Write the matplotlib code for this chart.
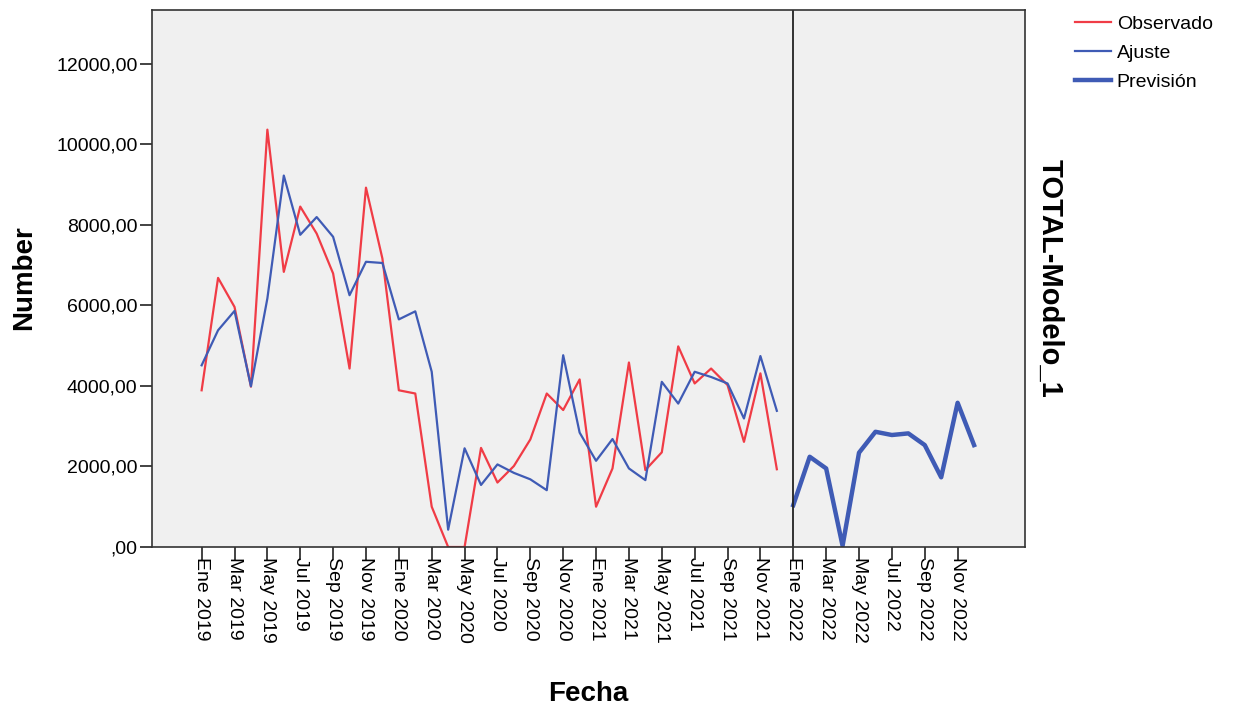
import matplotlib
matplotlib.use("Agg")
import matplotlib.pyplot as plt
from matplotlib.lines import Line2D
from matplotlib.ticker import FuncFormatter
import numpy as np

plt.rcParams["font.family"] = ["Liberation Sans", "DejaVu Sans"]

OBS_COLOR = "#F03C46"
FIT_COLOR = "#3F5BB5"

MESES = ["Ene", "Feb", "Mar", "Abr", "May", "Jun", "Jul", "Ago", "Sep", "Oct", "Nov", "Dic"]
YEARS = [2019, 2020, 2021, 2022]
month_labels = [f"{m} {y}" for y in YEARS for m in MESES]

# Jan 2019 - Dec 2021
observado = [3890, 6680, 5960, 3980, 10360, 6830, 8450, 7780, 6790, 4430, 8920, 7160,
             3890, 3810, 1000, 0, 0, 2460, 1600, 2010, 2670, 3810, 3400, 4160,
             1000, 1950, 4580, 1910, 2350, 4980, 4060, 4430, 4020, 2610, 4310, 1930]
ajuste = [4510, 5380, 5860, 3990, 6170, 9220, 7750, 8190, 7700, 6250, 7080, 7050,
          5650, 5850, 4350, 430, 2450, 1540, 2050, 1840, 1680, 1410, 4760, 2840,
          2140, 2680, 1950, 1660, 4100, 3560, 4350, 4220, 4060, 3190, 4740, 3380]
# Jan 2022 - Dec 2022
prevision = [1040, 2240, 1950, 30, 2340, 2860, 2780, 2820, 2530, 1730, 3580, 2530]

x_hist = np.arange(len(observado))
x_prev = np.arange(len(observado), len(observado) + len(prevision))

fig = plt.figure(figsize=(12.34, 7.11), dpi=100)
ax = fig.add_axes([152 / 1234, 1 - 547 / 711, (1025 - 152) / 1234, (547 - 10) / 711])
ax.set_facecolor("#F0F0F0")

ax.plot(x_hist, observado, color=OBS_COLOR, lw=1.6)
ax.plot(x_hist, ajuste, color=FIT_COLOR, lw=1.6)
ax.plot(x_prev, prevision, color=FIT_COLOR, lw=3.2)
ax.axvline(x=len(observado), color="#222222", lw=1.3)

ax.set_xlim(-3.02, 50.1)
ax.set_ylim(0, 13330)

ticks = np.arange(0, 48, 2)
ax.set_xticks(ticks)
ax.set_xticklabels([month_labels[i] for i in ticks], rotation=-90, ha="center", va="top")
ax.set_yticks(np.arange(0, 12001, 2000))
ax.yaxis.set_major_formatter(FuncFormatter(lambda v, p: f"{v:.2f}".replace(".", ",").lstrip("0")))

ax.tick_params(axis="x", length=9.5, width=1.2, pad=-2, labelsize=14, color="#222222")
ax.tick_params(axis="y", length=8.5, width=1.2, pad=2, labelsize=14, color="#222222")
for sp in ax.spines.values():
    sp.set_color("#333333")
    sp.set_linewidth(1.2)

fig.text(588 / 1234, 1 - 694 / 711, "Fecha", fontsize=20, fontweight="bold", ha="center", va="center")
fig.text(24 / 1234, 1 - 278 / 711, "Number", fontsize=20, fontweight="bold", rotation=90,
         ha="center", va="center")
fig.text(1050 / 1234, 1 - 278 / 711, "TOTAL-Modelo_1", fontsize=21, fontweight="bold", rotation=-90,
         ha="center", va="center")

handles = [Line2D([], [], color=OBS_COLOR, lw=1.6),
           Line2D([], [], color=FIT_COLOR, lw=1.6),
           Line2D([], [], color=FIT_COLOR, lw=3.2)]
fig.legend(handles, ["Observado", "Ajuste", "Previsión"], loc="upper left",
           bbox_to_anchor=(1075 / 1234, 1 - 15 / 711), frameon=False, fontsize=14,
           handlelength=1.85, handletextpad=0.3, labelspacing=0.6, borderpad=0, borderaxespad=0)

fig.savefig("out.png", dpi=100, facecolor="white")
